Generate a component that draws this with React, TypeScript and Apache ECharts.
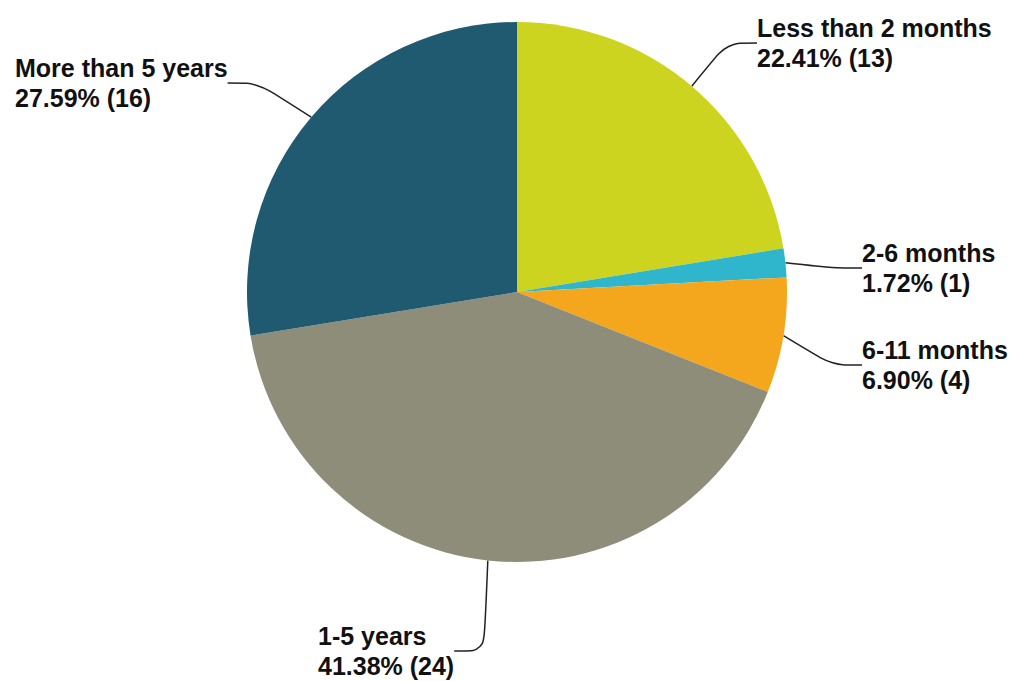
import React, { useEffect, useRef } from "react";
import * as echarts from "echarts";

const categories = ["Less than 2 months", "2-6 months", "6-11 months", "1-5 years", "More than 5 years"];
const counts = [13, 1, 4, 24, 16];
const colors = ["#cdd420", "#30b6cc", "#f4a61c", "#8d8d79", "#1f5a70"];
const labelPos: [number, number][] = [
  [757, 43],
  [862, 268],
  [862, 365],
  [318, 651],
  [15, 83],
];

export default function App() {
  const ref = useRef<HTMLDivElement>(null);
  useEffect(() => {
    if (!ref.current) return;
    const chart = echarts.init(ref.current, null, { renderer: "svg" });
    const total = counts.reduce((a, b) => a + b, 0);
    chart.setOption({
      animation: false,
      backgroundColor: "#ffffff",
      series: [
        {
          type: "pie",
          center: [517, 292],
          radius: 270,
          startAngle: 90,
          clockwise: true,
          avoidLabelOverlap: false,
          data: categories.map((c, i) => ({
            name: c,
            value: counts[i],
            itemStyle: { color: colors[i] },
          })),
          label: {
            show: true,
            position: "outside",
            formatter: (p: any) =>
              `${p.name}\n${((p.value / total) * 100).toFixed(2)}% (${p.value})`,
            fontFamily: "Liberation Sans, Arial, sans-serif",
            fontWeight: "bold",
            fontSize: 25,
            lineHeight: 30,
            color: "#111111",
            align: "left",
          },
          labelLine: {
            show: true,
            smooth: 0.3,
            lineStyle: { color: "#222222", width: 1.5 },
          },
          labelLayout: (params: any) => {
            const p = labelPos[params.dataIndex];
            return { x: p[0], y: p[1], align: "left", verticalAlign: "middle" };
          },
        },
      ],
    });
    return () => chart.dispose();
  }, []);
  return (
    <div
      ref={ref}
      style={{ position: "absolute", left: 0, top: 0, width: 1028, height: 681 }}
    />
  );
}
